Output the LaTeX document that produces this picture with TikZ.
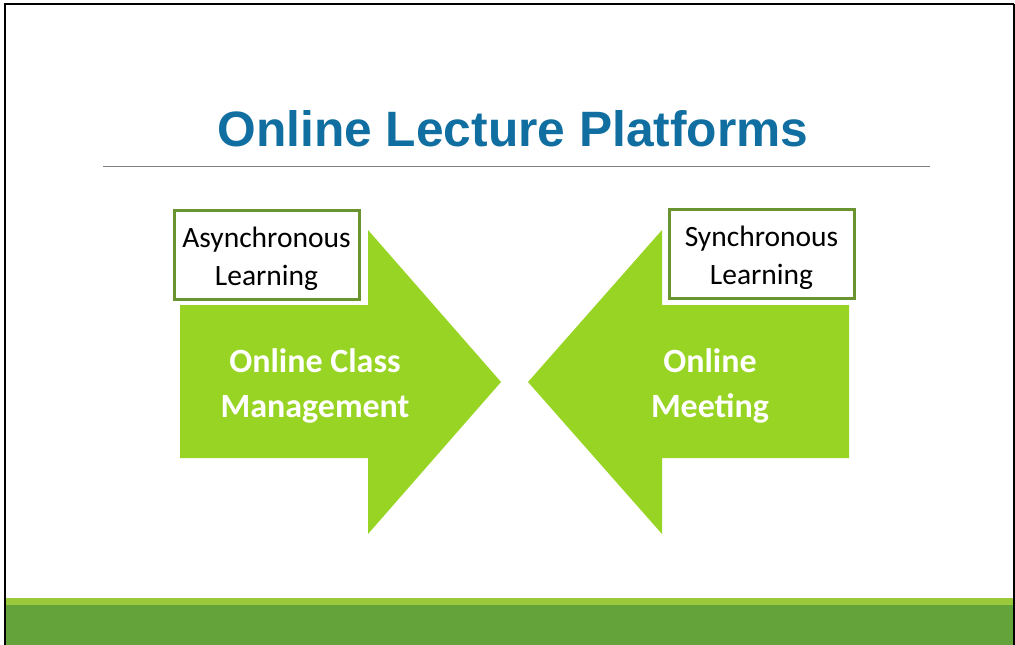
\documentclass[tikz,border=0pt]{standalone}
\usepackage{fontspec}
\setmainfont{Carlito}
\newfontfamily\titlefont{Liberation Sans}
\usetikzlibrary{positioning}
\usetikzlibrary{calc}
\definecolor{titleblue}{RGB}{16,110,160}
\definecolor{arrowgreen}{RGB}{152,212,36}
\definecolor{boxgreen}{RGB}{106,148,48}
\definecolor{bandlight}{RGB}{154,202,60}
\definecolor{banddark}{RGB}{99,163,58}
\tikzstyle{labelbox}=[draw=boxgreen,line width=3pt,fill=white,minimum width=185pt,minimum height=89pt,inner sep=0pt]
\tikzstyle{boxtext}=[align=center,inner sep=0pt,font=\fontsize{29.5}{38}\selectfont]
\tikzstyle{arrowtext}=[white,align=center,inner sep=0pt,font=\bfseries\fontsize{34}{45}\selectfont]
\tikzstyle{arrowfill}=[fill=arrowgreen,draw=none]
\tikzstyle{frameline}=[black,line width=2.5pt]

\begin{document}
\begin{tikzpicture}[x=1pt,y=-1pt]
	\useasboundingbox (0,0) rectangle (1015,645);
	
	% Slide frame and bottom bands
	\fill[bandlight] (5,598) rectangle (1015,605);
	\fill[banddark] (5,605) rectangle (1015,645);
	\draw[frameline] (5,645) -- (5,4) -- (1014,4);
	\draw[black, line width=1.5pt] (1014,4) -- (1014,645);
	
	% Title
	\node[titleblue, font=\titlefont\bfseries\fontsize{49.7}{60}\selectfont] (title) at (513,129) {Online Lecture Platforms};
	\draw[gray, line width=1pt] (103,166) -- (930,166);
	
	% Left arrow
	\fill[arrowfill] (180,305) -- (368,305) -- (368,230) -- (501,382) -- (368,534) -- (368,458) -- (180,458) -- cycle;
	\node[arrowtext] (occm) at (315,386) {Online Class\\Management};
	\node[labelbox] (async) at (266.5,254.5) {};
	\node[boxtext] (asynctext) at ($(async)+(0,4)$) {Asynchronous\\Learning};
	
	% Right arrow
	\fill[arrowfill] (849,305) -- (662,305) -- (662,230) -- (528,382) -- (662,534) -- (662,458) -- (849,458) -- cycle;
	\node[arrowtext] (meet) at (710,386) {Online\\Meeting};
	\node[labelbox] (sync) at (761.5,254) {};
	\node[boxtext] (synctext) at ($(sync)+(0,4)$) {Synchronous\\Learning};
	
\end{tikzpicture}
\end{document}
